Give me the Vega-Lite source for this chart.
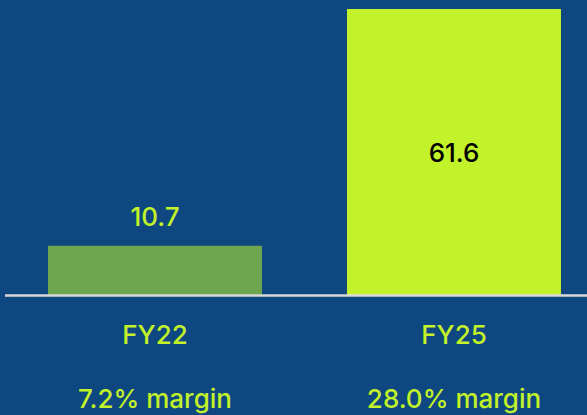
{
  "$schema": "https://vega.github.io/schema/vega-lite/v6.json",
  "width": 582,
  "height": 286.5,
  "autosize": {"type": "none"},
  "padding": {"left": 5, "top": 9, "right": 0, "bottom": 119.5},
  "background": "#0f4780",
  "config": {"view": {"stroke": null}, "font": "Inter"},
  "data": {"values": [
    {"year": "FY22", "value": 10.7, "margin": "7.2% margin"},
    {"year": "FY25", "value": 61.6, "margin": "28.0% margin"}
  ]},
  "encoding": {
    "x": {"field": "year", "type": "nominal", "sort": null,
      "scale": {"paddingInner": 0.2843, "paddingOuter": 0.1154, "align": 0.623},
      "axis": null}
  },
  "layer": [
    {
      "mark": {"type": "bar"},
      "encoding": {
        "y": {"field": "value", "type": "quantitative", "scale": {"domain": [0, 61.6], "nice": false, "zero": true}, "axis": null},
        "color": {"field": "year", "type": "nominal", "scale": {"domain": ["FY22", "FY25"], "range": ["#6ea64f", "#c2f229"]}, "legend": null}
      }
    },
    {
      "mark": {"type": "rule", "color": "#d9d9d9", "strokeWidth": 2},
      "encoding": {"y": {"datum": 0, "type": "quantitative"}, "x": {"value": 0}, "x2": {"value": 582}}
    },
    {
      "transform": [{"filter": "datum.year == 'FY22'"}],
      "mark": {"type": "text", "fontSize": 26, "fontWeight": 500, "color": "#c2f229", "baseline": "middle", "dy": -28},
      "encoding": {"y": {"field": "value", "type": "quantitative"}, "text": {"field": "value", "type": "quantitative", "format": ".1f"}}
    },
    {
      "transform": [{"filter": "datum.year == 'FY25'"}],
      "mark": {"type": "text", "fontSize": 26, "fontWeight": 500, "color": "#000000", "baseline": "middle", "dy": 145},
      "encoding": {"y": {"field": "value", "type": "quantitative"}, "text": {"field": "value", "type": "quantitative", "format": ".1f"}}
    },
    {
      "mark": {"type": "text", "fontSize": 26, "fontWeight": 500, "color": "#c2f229", "baseline": "middle", "dy": 40},
      "encoding": {"y": {"datum": 0, "type": "quantitative"}, "text": {"field": "year"}}
    },
    {
      "mark": {"type": "text", "fontSize": 26, "fontWeight": 500, "color": "#c2f229", "baseline": "middle", "dy": 104},
      "encoding": {"y": {"datum": 0, "type": "quantitative"}, "text": {"field": "margin"}}
    }
  ]
}
